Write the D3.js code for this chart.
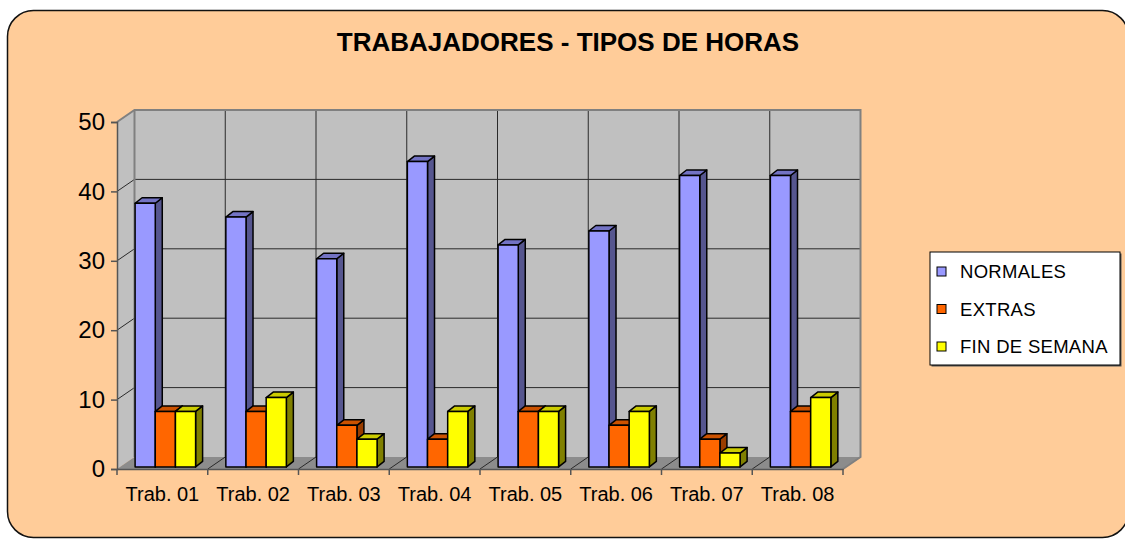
<!DOCTYPE html>
<html>
<head>
<meta charset="utf-8">
<script src="https://cdn.jsdelivr.net/npm/d3@7"></script>
<style>
  body { margin: 0; background: #fff; }
  svg { display: block; font-family: Arial, "Liberation Sans", sans-serif; }
</style>
</head>
<body>
<svg id="chart" width="1125" height="539"></svg>
<script>
const categories = ['Trab. 01', 'Trab. 02', 'Trab. 03', 'Trab. 04', 'Trab. 05', 'Trab. 06', 'Trab. 07', 'Trab. 08'];
const normales = [38, 36, 30, 44, 32, 34, 42, 42];
const extras = [8, 8, 6, 4, 8, 6, 4, 8];
const finDeSemana = [8, 10, 4, 8, 8, 8, 2, 10];
const seriesNames = ['NORMALES', 'EXTRAS', 'FIN DE SEMANA'];
const yTicks = [0, 10, 20, 30, 40, 50];
const title = 'TRABAJADORES - TIPOS DE HORAS';

// face colours per series: front, top, side
const COLORS = {
  'NORMALES': ['#9999ff', '#7373c4', '#56568f'],
  'EXTRAS': ['#ff6600', '#cc5200', '#993d00'],
  'FIN DE SEMANA': ['#ffff00', '#cccc00', '#808000']
};

const series = seriesNames.map((name, i) => ({ name, values: [normales, extras, finDeSemana][i] }));

// floor depth offset and bar depth offset (oblique projection)
const DX = 17.5, DY = -12;
const BAR_F = 0.17;            // bar front position in floor depth
const BDX = 7, BDY = -5.5;     // bar depth

const svg = d3.select('#chart');

svg.append('rect')
  .attr('x', 7.5).attr('y', 10.5)
  .attr('width', 1121).attr('height', 527)
  .attr('rx', 26).attr('ry', 26)
  .attr('fill', '#ffcc99')
  .attr('stroke', '#111').attr('stroke-width', 1.5);

svg.append('text')
  .attr('x', 568).attr('y', 51)
  .attr('text-anchor', 'middle')
  .attr('font-size', 26).attr('font-weight', 700)
  .text(title);

const x = d3.scaleBand().domain(categories).range([117, 843]);
const inner = d3.scaleBand().domain(seriesNames).range([0, x.bandwidth()]).paddingOuter(0.75);
const y = d3.scaleLinear().domain([0, 50]).range([469, 122]);

const x0 = 117, x1 = 843, yBase = y(0), yTop = y(50);
const poly = pts => pts.map(p => p.join(',')).join(' ');

// walls and floor
const g = svg.append('g');
g.append('polygon') // back wall
  .attr('points', poly([[x0 + DX, yTop + DY], [x1 + DX, yTop + DY], [x1 + DX, yBase + DY], [x0 + DX, yBase + DY]]))
  .attr('fill', '#c0c0c0');
g.append('polygon') // side wall
  .attr('points', poly([[x0, yTop], [x0 + DX, yTop + DY], [x0 + DX, yBase + DY], [x0, yBase]]))
  .attr('fill', '#c0c0c0');
g.append('polygon') // floor
  .attr('points', poly([[x0, yBase], [x0 + DX, yBase + DY], [x1 + DX, yBase + DY], [x1, yBase]]))
  .attr('fill', '#8c8c8c');

// horizontal gridlines: side wall + back wall
yTicks.slice(1, -1).forEach(t => {
  const yy = y(t);
  g.append('polyline')
    .attr('points', poly([[x0, yy], [x0 + DX, yy + DY], [x1 + DX, yy + DY]]))
    .attr('fill', 'none').attr('stroke', '#2a2a2a').attr('stroke-width', 1);
});
// vertical gridlines on back wall and floor
x.domain().slice(1).forEach(c => {
  const xx = x(c);
  g.append('polyline')
    .attr('points', poly([[xx, yBase], [xx + DX, yBase + DY], [xx + DX, yTop + DY]]))
    .attr('fill', 'none').attr('stroke', '#2a2a2a').attr('stroke-width', 1);
});
// wall edges
g.append('polyline')
  .attr('points', poly([[x0, yTop], [x0 + DX, yTop + DY], [x1 + DX, yTop + DY], [x1 + DX, yBase + DY], [x1, yBase]]))
  .attr('fill', 'none').attr('stroke', '#808080').attr('stroke-width', 2);
g.append('line')
  .attr('x1', x0 + DX).attr('y1', yTop + DY).attr('x2', x0 + DX).attr('y2', yBase + DY)
  .attr('stroke', '#808080').attr('stroke-width', 2);

// axes on the front plane
const yAxis = svg.append('g')
  .attr('transform', `translate(${x0},0)`)
  .call(d3.axisLeft(y).tickValues(yTicks).tickSize(6).tickPadding(6));
yAxis.select('.domain').attr('stroke', '#555').attr('stroke-width', 1.5);
yAxis.selectAll('.tick line').attr('stroke', '#555').attr('stroke-width', 1.5);
yAxis.selectAll('.tick text').attr('font-size', 24).attr('font-family', 'Arial, "Liberation Sans", sans-serif').attr('fill', '#000');

const xAxis = svg.append('g')
  .attr('transform', `translate(0,${yBase})`)
  .call(d3.axisBottom(x).tickSize(0).tickPadding(18));
xAxis.select('.domain').attr('stroke', '#555').attr('stroke-width', 1.5);
xAxis.selectAll('.tick text').attr('font-size', 20).attr('font-family', 'Arial, "Liberation Sans", sans-serif').attr('fill', '#000');
// category ticks at boundaries
svg.append('g').selectAll('line')
  .data(categories.concat(['end']))
  .join('line')
  .attr('x1', (d, i) => x0 + i * x.step()).attr('x2', (d, i) => x0 + i * x.step())
  .attr('y1', yBase).attr('y2', yBase + 6)
  .attr('stroke', '#555').attr('stroke-width', 1.5);

// bars
const bars = svg.append('g')
  .attr('stroke', '#000').attr('stroke-width', 1.5).attr('stroke-linejoin', 'round');
categories.forEach((cat, ci) => {
  series.forEach(s => {
    const v = s.values[ci];
    const [front, top, side] = COLORS[s.name];
    const bx = x(cat) + inner(s.name) + DX * BAR_F;
    const w = inner.bandwidth();
    const b = yBase + DY * BAR_F;
    const t = y(v) + DY * BAR_F;
    bars.append('polygon')
      .attr('points', poly([[bx + w, t], [bx + w + BDX, t + BDY], [bx + w + BDX, b + BDY], [bx + w, b]]))
      .attr('fill', side);
    bars.append('polygon')
      .attr('points', poly([[bx, t], [bx + BDX, t + BDY], [bx + w + BDX, t + BDY], [bx + w, t]]))
      .attr('fill', top);
    bars.append('rect')
      .attr('x', bx).attr('y', t).attr('width', w).attr('height', b - t)
      .attr('fill', front);
  });
});

// legend
const legend = svg.append('g').attr('transform', 'translate(930,252)');
legend.append('rect')
  .attr('x', 1.5).attr('y', 1.5).attr('width', 190).attr('height', 113)
  .attr('fill', '#555');
legend.append('rect')
  .attr('width', 190).attr('height', 113)
  .attr('fill', '#fff').attr('stroke', '#000').attr('stroke-width', 1);
const item = legend.selectAll('g.item')
  .data(seriesNames)
  .join('g')
  .attr('class', 'item')
  .attr('transform', (d, i) => `translate(0,${19.5 + i * 37.5})`);
item.append('rect')
  .attr('x', 7).attr('y', -4.5).attr('width', 9).attr('height', 9)
  .attr('fill', d => COLORS[d][0]).attr('stroke', '#000').attr('stroke-width', 1);
item.append('text')
  .attr('x', 30).attr('y', 6.5)
  .attr('font-size', 18.5)
  .attr('letter-spacing', 0.3)
  .text(d => d);
</script>
</body>
</html>
